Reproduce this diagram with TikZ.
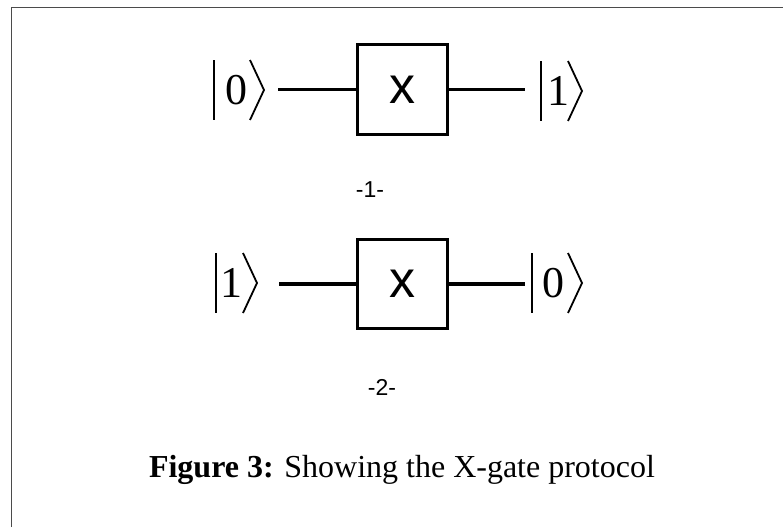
\documentclass[tikz,border=0pt]{standalone}
\usepackage{fontspec}
\setmainfont{Liberation Serif}
\setsansfont{Liberation Sans}
\begin{document}
\begin{tikzpicture}[x=1pt,y=-1pt,
  frameline/.style={draw={rgb,255:red,75;green,75;blue,75},line width=1.8pt},
  gatebox/.style={draw,line width=3.4pt,minimum size=89.5pt,inner sep=0pt,
    font=\sffamily\fontsize{52}{60}\selectfont},
  wire/.style={line width=3.6pt},
  ketdigit/.style={inner sep=0pt,font=\fontsize{44}{52}\selectfont},
  ketstroke/.style={line width=1.8pt},
  steplabel/.style={inner sep=0pt,font=\sffamily\fontsize{23}{28}\selectfont},
  caption/.style={inner sep=0pt,font=\fontsize{32}{38}\selectfont}]
\useasboundingbox (0,0) rectangle (783,527);
\newcommand\ketat[6]{%
  \node[ketdigit] (#1) at (#4,#6) {#2};
  \draw[ketstroke] (#3,{#6-30}) -- (#3,{#6+30});
  \draw[ketstroke] ({#5-14},{#6-30}) -- (#5,#6) -- ({#5-14},{#6+30});
}
% frame
\coordinate (fa) at (11.5,527);
\coordinate (fb) at (11.5,7.5);
\coordinate (fc) at (783,7.5);
\draw[frameline] (fa) -- (fb) -- (fc);
% row 1
\ketat{k1l}{0}{214}{236}{264}{90}
\ketat{k1r}{1}{541}{558}{582}{91}
\node[gatebox] (b1) at (402.5,89.5) {x};
\coordinate (w1a) at (278,89.5);
\coordinate (w1b) at (525,89.5);
\draw[wire] (w1a) -- (b1);
\draw[wire] (b1) -- (w1b);
\node[steplabel] (s1) at (370,190) {-1-};
% row 2
\ketat{k2l}{1}{216}{231}{257}{283}
\ketat{k2r}{0}{532}{553}{582}{283}
\node[gatebox] (b2) at (402.5,284) {x};
\coordinate (w2a) at (279,284);
\coordinate (w2b) at (525,284);
\draw[wire] (w2a) -- (b2);
\draw[wire] (b2) -- (w2b);
\node[steplabel] (s2) at (382,387) {-2-};
% caption
\node[caption] (cap) at (402,470) {\textbf{Figure 3:} Showing the X-gate protocol};
\end{tikzpicture}
\end{document}
